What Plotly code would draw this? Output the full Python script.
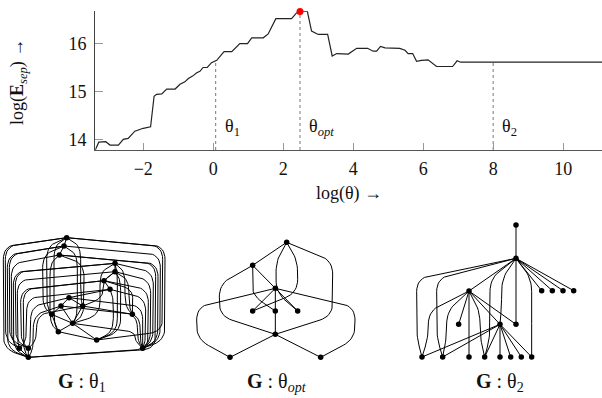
import numpy as np
import plotly.graph_objects as go

# ---------------- data: top curve ----------------
theta = [-3.37,-3.27,-3.07,-2.95,-2.71,-2.57,-2.43,-2.24,-2.0,-1.79,-1.69,-1.62,-1.47,-1.33,-1.09,-0.95,
         -0.81,-0.71,-0.59,-0.47,-0.38,-0.29,-0.17,-0.05,0.10,0.17,0.31,0.53,0.76,0.98,1.10,1.43,1.57,1.79,
         2.24,2.38,2.48,2.69,2.81,3.0,3.27,3.40,3.53,3.86,4.10,4.41,4.57,4.67,4.78,4.91,5.33,5.48,5.57,
         5.70,5.81,5.95,6.14,6.38,6.84,6.97,7.07,11.11]
esep = [13.78,13.94,13.95,13.88,13.88,14.0,14.02,14.17,14.23,14.26,14.9,14.94,14.95,15.05,15.05,15.15,
        15.2,15.27,15.32,15.39,15.42,15.5,15.5,15.6,15.65,15.71,15.83,15.83,16.0,16.0,16.12,16.12,16.2,
        16.52,16.52,16.64,16.67,16.67,16.26,16.19,16.19,15.74,15.79,15.78,15.9,15.9,15.84,15.84,15.94,
        15.91,15.9,15.86,15.79,15.79,15.63,15.65,15.66,15.52,15.52,15.64,15.61,15.61]
marker_thetas = [0.07, 2.48, 8.0]
marker_labels = ["θ<sub>1</sub>", "θ<sub><i>opt</i></sub>", "θ<sub>2</sub>"]
x_ticks = [-2, 0, 2, 4, 6, 8, 10]
x_ticktext = ["−2", "0", "2", "4", "6", "8", "10"]
y_ticks = [14, 15, 16]

# ---------------- data: graph drawings (local layout coordinates) ----------------
g1_nodes = [(200,113),(192,138),(178,165),(345,190),(345,215),(312,242),(330,268),(207,293),(183,318),
            (248,318),(155,343),(397,343),(218,370),(175,395),(290,420),(58,445),(85,445),(428,445),(85,472)]
g1_straight = [(0,1),(1,2),(3,4),(4,5),(5,6),(7,8),(7,9),(8,10),(9,12),(10,13),(12,13),(12,14),(8,12),
               (6,7),(10,12),(13,14),(16,18),(15,18)]
g1_routed = [
    # left staircase
    (0,18,10),(0,15,16),(1,18,22),(1,16,28),(2,15,34),(3,18,40),(3,16,46),(4,15,52),(5,16,62),
    (5,18,70),(6,15,80),(7,16,92),(8,18,100),(9,16,110),
    # right staircase
    (0,17,495),(0,14,488),(1,17,481),(2,17,474),(2,18,467),(3,17,460),(4,17,452),(5,18,445),
    (6,17,437),(7,17,428),(8,17,420),(9,17,412),(12,17,404),
    # middle columns
    (0,10,140),(1,10,128),(2,13,150),(0,13,162),(1,12,232),(0,9,242),(2,12,252),
    (3,14,352),(4,14,362),(3,11,375),(4,11,387),(5,11,398),(6,14,340),(3,12,300),(4,9,310)]

g2_nodes = [(290,127),(188,196),(256,265),(188,333),(256,333),(323,333),(256,403),(120,472),(392,472)]
g2_straight = [(0,1),(1,2),(2,3),(2,4),(2,5),(4,6),(6,7),(6,8)]
g2_routed = [(0,5,258),(0,3,323),(1,4,188),(1,6,88),(0,6,428),(2,7,20),(2,8,495)]

g3_nodes = [(348,75),(348,175),(425,272),(457,272),(489,272),(521,272),(207,273),(348,373),(176,373),
            (300,373),(66,471),(128,471),(207,471),(254,471),(300,471),(332,471),(364,471),(395,471)]
g3_straight = [(0,1),(1,2),(1,3),(1,4),(1,5),(1,6),(1,7),(6,8),(6,7),(6,9),(6,12),
               (9,10),(9,11),(9,13),(9,14),(9,15),(9,16),(9,17)]
g3_routed = [(1,10,50),(1,11,110),(1,13,270),(1,9,305),(1,17,395),(6,10,85),(6,11,140),(6,13,240)]

captions = ["<b>G</b>&nbsp;:&nbsp;θ<sub>1</sub>", "<b>G</b>&nbsp;:&nbsp;θ<sub><i>opt</i></sub>",
            "<b>G</b>&nbsp;:&nbsp;θ<sub>2</sub>"]

# ---------------- helpers ----------------
def rounded(pts, rad=40, n=10):
    out = [pts[0]]
    for i in range(1, len(pts) - 1):
        P = np.array(pts[i], float); A = np.array(pts[i-1], float); B = np.array(pts[i+1], float)
        la = np.linalg.norm(A - P); lb = np.linalg.norm(B - P)
        fa = min(rad / la, 0.5) if la > 0 else 0
        fb = min(rad / lb, 0.5) if lb > 0 else 0
        a = P + (A - P) * fa; b = P + (B - P) * fb
        for t in np.linspace(0, 1, n):
            q = (1-t)**2 * a + 2*(1-t)*t * P + t**2 * b
            out.append((q[0], q[1]))
    out.append(pts[-1])
    return out

def route(p, q, bx, dy):
    (ux, uy), (vx, vy) = p, q
    span = vy - uy
    d = min(dy, span / 3) if span > 0 else dy
    return rounded([(ux, uy), (bx, uy + d), (bx, vy - d), (vx, vy)])

def edge_xy(nodes, straight, routed, dy):
    xs, ys = [], []
    for u, v in straight:
        xs += [nodes[u][0], nodes[v][0], None]; ys += [nodes[u][1], nodes[v][1], None]
    for u, v, bx in routed:
        pts = route(nodes[u], nodes[v], bx, dy)
        xs += [p[0] for p in pts] + [None]; ys += [p[1] for p in pts] + [None]
    return xs, ys

# ---------------- figure ----------------
fig = go.Figure()
SERIF = "Liberation Serif"
ymin, ymax = 13.777, 16.675

fig.add_trace(go.Scatter(x=theta, y=esep, mode="lines", line=dict(color="#222", width=1.2),
                         xaxis="x", yaxis="y", showlegend=False, hoverinfo="skip"))
for t in marker_thetas:
    yv = float(np.interp(t, theta, esep))
    fig.add_trace(go.Scatter(x=[t, t], y=[ymin, yv], mode="lines",
                             line=dict(color="#777", width=1, dash="dot"),
                             xaxis="x", yaxis="y", showlegend=False, hoverinfo="skip"))
imax = int(np.argmax(esep))
fig.add_trace(go.Scatter(x=[theta[imax]], y=[esep[imax]], mode="markers",
                         marker=dict(color="#ff0000", size=7, line=dict(width=0)), cliponaxis=False,
                         xaxis="x", yaxis="y", showlegend=False, hoverinfo="skip"))

for t, lab in zip(marker_thetas, marker_labels):
    fig.add_annotation(x=t + 0.2, y=14.24, xref="x", yref="y", text=lab, showarrow=False,
                       xanchor="left", yanchor="middle", font=dict(family=SERIF, size=18, color="#111"))

# graph drawings
graphs = [(g1_nodes, g1_straight, g1_routed, 25, "x2", "y2"),
          (g2_nodes, g2_straight, g2_routed, 55, "x3", "y3"),
          (g3_nodes, g3_straight, g3_routed, 60, "x4", "y4")]
for nodes, st, rt, dy, xa, ya in graphs:
    ex, ey = edge_xy(nodes, st, rt, dy)
    fig.add_trace(go.Scatter(x=ex, y=ey, mode="lines", line=dict(color="black", width=1),
                             xaxis=xa, yaxis=ya, showlegend=False, hoverinfo="skip"))
    fig.add_trace(go.Scatter(x=[n[0] for n in nodes], y=[n[1] for n in nodes], mode="markers",
                             marker=dict(color="black", size=5.5),
                             xaxis=xa, yaxis=ya, showlegend=False, hoverinfo="skip"))

W, H = 602, 398
cap_x = [82, 277, 500]
for cx, cap in zip(cap_x, captions):
    fig.add_annotation(x=cx / W, y=1 - 382 / H, xref="paper", yref="paper", text=cap, showarrow=False,
                       xanchor="center", yanchor="middle", font=dict(family=SERIF, size=20, color="#111"))

fig.add_annotation(x=18 / W, y=1 - 82 / H, xref="paper", yref="paper",
                   text="log(<b>E</b><sub><i>sep</i></sub>) →", textangle=-90, showarrow=False,
                   xanchor="center", yanchor="middle", font=dict(family=SERIF, size=18, color="#111"))
fig.add_annotation(x=349 / W, y=1 - 193 / H, xref="paper", yref="paper",
                   text="log(θ) →", showarrow=False,
                   xanchor="center", yanchor="middle", font=dict(family=SERIF, size=18, color="#111"))

hidden = dict(visible=False, showgrid=False, zeroline=False, fixedrange=True)
gy = [0, 198 / H]
fig.update_layout(
    width=W, height=H, margin=dict(l=0, r=0, t=0, b=0, pad=0),
    paper_bgcolor="white", plot_bgcolor="white", showlegend=False,
    xaxis=dict(domain=[95.3 / W, 1], range=[-3.37, 11.11], showline=True, linecolor="#555", linewidth=1.3,
               ticks="inside", ticklen=7, tickcolor="#999", tickwidth=1, tickvals=x_ticks, ticktext=x_ticktext,
               showgrid=False, zeroline=False, automargin=False, ticklabelstandoff=2,
               tickfont=dict(family=SERIF, size=18, color="#111")),
    yaxis=dict(domain=[1 - 150 / H, 1 - 11.2 / H], range=[ymin, ymax], showline=True, linecolor="#444",
               linewidth=1.3, ticks="inside", ticklen=8, tickcolor="#999", tickwidth=1, tickvals=y_ticks,
               showgrid=False, zeroline=False, automargin=False, ticklabelstandoff=4,
               tickfont=dict(family=SERIF, size=18, color="#111")),
    xaxis2=dict(domain=[0, 200 / W], range=[0, 600], anchor="y2", **hidden),
    yaxis2=dict(domain=gy, range=[594, 0], anchor="x2", **hidden),
    xaxis3=dict(domain=[190 / W, 400 / W], range=[0, 630], anchor="y3", **hidden),
    yaxis3=dict(domain=gy, range=[594, 0], anchor="x3", **hidden),
    xaxis4=dict(domain=[400 / W, 1], range=[0, 606], anchor="y4", **hidden),
    yaxis4=dict(domain=gy, range=[594, 0], anchor="x4", **hidden),
)

fig.write_html("out.html", config={"displayModeBar": False},
               post_script="document.body.style.margin='0px';document.body.style.overflow='hidden';")
